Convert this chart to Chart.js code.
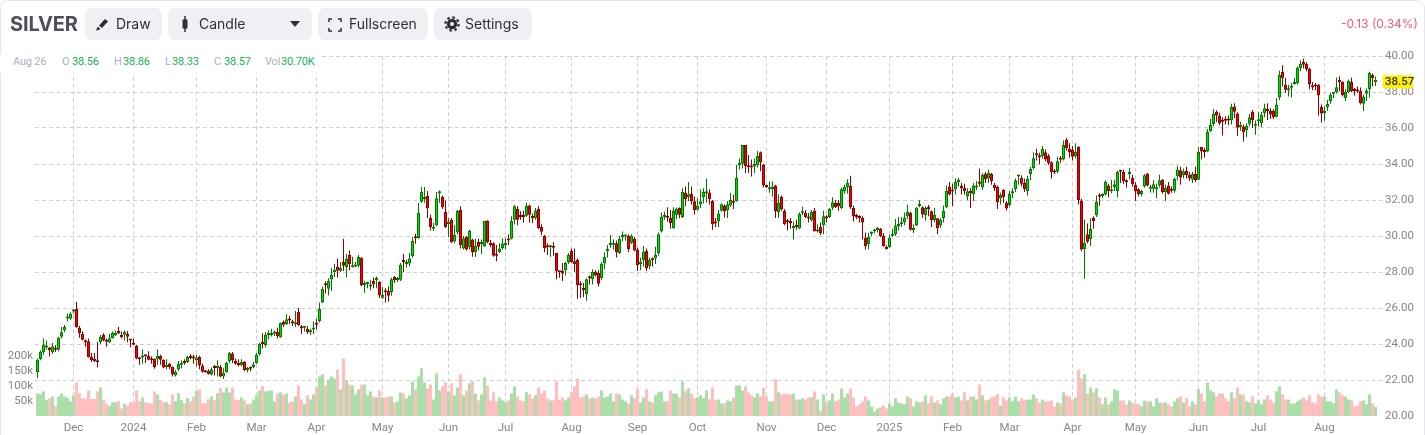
<!DOCTYPE html>
<html>
<head>
<meta charset="UTF-8">
<title>SILVER</title>
<script src="https://cdn.jsdelivr.net/npm/chart.js@4"></script>
<style>
  html, body { margin: 0; padding: 0; background: #fff; }
  #card { position: absolute; left: 0; top: 0; width: 1423px; height: 445px; border: 1px solid #e6e7eb; border-radius: 8px; }
  #frame { position: absolute; left: 0; top: 0; width: 1425px; height: 435px; overflow: hidden; font-family: Inter, Roboto, sans-serif; }
  canvas { position: absolute; left: 0; top: 0; }
  .abs { position: absolute; white-space: nowrap; }
  .title { left: 10px; top: 10px; font-size: 20px; line-height: 28px; font-weight: 700; color: #4d505c; letter-spacing: -0.15px; }
  .btn { position: absolute; top: 8px; height: 32px; background: #eff0f4; border-radius: 7px; color: #2d2f38; font-size: 14px; line-height: 32px; white-space: nowrap; }
  .btn svg { position: absolute; top: 8px; }
  .btn span { position: absolute; top: 0; }
  .change { right: 7px; top: 16px; font-size: 12px; line-height: 16px; color: #ff5a5f; }
  #ohlc { position: absolute; left: 0; top: 54px; width: 319px; height: 19px; background: #fff; font: 11px/16px Roboto, sans-serif; }
  #ohlc span { position: absolute; top: 0; white-space: nowrap; letter-spacing: -0.2px; }
  .k { color: #adb0bf; }
  .v { color: #16b25a; }
</style>
</head>
<body>
<div id="frame">
<div id="card"></div>
<canvas id="chart" width="1425" height="435"></canvas>

<div class="abs title">SILVER</div>

<div class="btn" style="left:85px;width:77px">
  <svg width="16" height="16" viewBox="0 0 16 16" style="left:9px"><path d="M2 14l2-3.5 2.5 2.5L3 14.5zM5 9.5L11 3l3 2.5-6 6.5z" fill="#2d2f38"/></svg>
  <span style="left:31px">Draw</span>
</div>
<div class="btn" style="left:168px;width:144px">
  <svg width="16" height="16" viewBox="0 0 16 16" style="left:9px"><path d="M8 0v16" stroke="#2d2f38" stroke-width="1.5"/><rect x="5.5" y="3.5" width="5" height="9" fill="#2d2f38"/></svg>
  <span style="left:31px">Candle</span>
  <svg width="10" height="6" viewBox="0 0 10 6" style="left:122px;top:13px"><path d="M0 0h10L5 6z" fill="#2d2f38"/></svg>
</div>
<div class="btn" style="left:318px;width:110px">
  <svg width="14" height="14" viewBox="0 0 14 14" style="left:10px;top:10px"><path d="M1 4V1h3M10 1h3v3M13 10v3h-3M4 13H1v-3" fill="none" stroke="#2d2f38" stroke-width="1.5"/></svg>
  <span style="left:31px">Fullscreen</span>
</div>
<div class="btn" style="left:434px;width:98px">
  <svg width="16" height="16" viewBox="0 0 16 16" style="left:10px"><circle cx="8" cy="8" r="3.6" fill="none" stroke="#2d2f38" stroke-width="3.2"/><circle cx="8" cy="8" r="6.6" fill="none" stroke="#2d2f38" stroke-width="2.2" stroke-dasharray="2.6 2.6"/></svg>
  <span style="left:31px">Settings</span>
</div>

<div class="abs change">-0.13 (0.34%)</div>

<div id="ohlc">
  <span class="k" style="left:13px">Aug 26</span>
  <span class="k" style="left:62px">O</span><span class="v" style="left:72px">38.56</span>
  <span class="k" style="left:114px">H</span><span class="v" style="left:123px">38.86</span>
  <span class="k" style="left:165px">L</span><span class="v" style="left:172px">38.33</span>
  <span class="k" style="left:214px">C</span><span class="v" style="left:224px">38.57</span>
  <span class="k" style="left:265px">Vol</span><span class="v" style="left:281px">30.70K</span>
</div>
</div>

<script>
// values, one entry per trading day
const opens = [
  22.43,23.17,23.54,23.8,23.8,23.55,23.78,23.68,24.4,24.76,
  25.42,25.4,25.8,25.96,24.9,24.57,24.2,24.15,23.28,23.1,
  23.08,24.1,24.52,24.15,24.1,24.32,24.48,24.72,24.5,24.52,
  24.55,24.22,24.07,23.9,23.2,23.25,23.37,23.33,23.15,23.16,
  23.15,23.35,23.13,22.72,22.9,22.72,22.25,22.58,22.85,23.05,
  22.98,23.32,23.28,23.1,23.28,22.8,22.52,22.5,22.3,22.72,
  22.65,22.72,22.2,22.45,23.05,23.47,23.05,22.95,22.83,23.02,
  22.55,22.66,22.72,22.95,23.45,24.13,23.93,24.5,24.5,24.57,
  24.68,24.37,25.22,25.1,25.38,25.25,25.1,25.78,24.95,24.9,
  24.83,24.65,24.8,25.15,25.28,26.31,27.33,27.07,27.58,28.0,
  28.3,28.07,28.55,28.26,28.95,28.26,28.3,28.35,28.78,27.28,
  27.33,27.2,27.5,27.54,27.44,26.57,26.9,26.95,26.88,27.72,
  27.55,27.57,28.58,28.45,28.47,28.87,29.9,29.88,31.9,32.05,
  32.22,31.0,30.4,30.6,32.38,32.17,31.33,30.67,30.9,29.7,
  30.2,31.45,29.3,29.95,29.38,29.8,29.1,29.67,29.55,29.42,
  30.85,29.55,29.6,28.95,29.1,29.32,29.47,29.78,29.85,30.9,
  31.5,31.1,31.1,31.13,31.7,31.1,30.98,31.5,30.5,30.02,
  29.43,29.37,29.45,29.05,28.02,28.05,28.1,28.55,29.17,28.6,
  28.67,27.38,27.1,26.76,27.68,27.6,28.03,27.95,27.65,28.47,
  29.15,29.5,29.52,29.6,29.05,29.95,29.97,30.02,29.62,29.85,
  29.25,28.43,28.65,29.17,28.32,28.68,28.75,29.05,30.25,31.05,
  31.05,31.0,30.43,31.18,31.55,31.05,32.42,32.15,32.35,31.93,
  31.46,31.76,32.15,32.38,32.42,31.95,30.8,30.8,31.4,31.7,
  31.42,31.7,31.9,31.93,33.93,34.02,35.05,33.85,33.85,33.87,
  33.93,34.65,33.97,32.75,32.6,32.6,32.8,31.32,32.17,31.4,
  30.8,30.85,30.45,30.55,30.42,31.26,31.28,31.0,30.87,31.4,
  30.25,30.5,30.6,31.1,31.05,31.57,31.83,31.83,31.55,32.48,
  32.72,32.78,31.55,31.07,31.03,31.02,29.9,29.55,30.12,30.25,
  30.33,30.4,30.0,29.4,29.38,30.02,30.1,30.55,30.65,30.75,
  31.1,31.28,30.33,30.58,31.66,31.6,31.17,31.55,31.38,30.87,
  30.98,30.58,31.0,31.6,32.75,32.5,32.6,33.0,32.78,32.68,
  32.2,32.5,32.33,32.7,33.0,32.7,33.45,33.2,33.45,32.83,
  32.72,32.09,32.55,31.85,31.72,32.37,32.6,33.3,33.22,32.95,
  32.5,33.45,33.78,34.52,34.42,34.43,34.65,34.45,34.1,33.58,
  33.57,34.26,34.25,35.33,34.83,34.8,34.43,34.95,31.97,29.26,
  30.1,29.83,31.0,31.15,32.22,32.22,32.3,32.8,32.48,32.72,
  32.5,33.6,33.55,33.02,33.45,33.22,32.83,32.6,32.3,32.75,
  33.47,32.62,32.63,32.6,32.82,33.12,32.43,32.8,32.55,32.52,
  33.32,33.65,33.37,33.63,33.4,33.13,33.45,33.13,34.95,34.7,
  34.7,35.82,36.22,36.9,36.7,36.38,36.42,36.44,36.43,37.2,
  36.8,36.05,36.08,35.87,36.24,36.9,36.13,36.38,36.26,36.82,
  37.05,36.95,36.95,36.63,37.7,39.13,38.4,38.1,38.24,38.45,
  38.48,39.32,39.67,39.57,39.28,38.3,38.32,38.4,37.17,36.82,
  37.15,37.5,37.9,37.98,38.57,38.55,37.65,38.0,38.55,38.1,
  38.07,38.05,37.35,37.9,38.17,38.95,38.56
];
const highs = [
  23.2,23.65,24.3,24.2,23.85,24.05,23.95,24.4,24.95,25.05,
  25.7,25.75,25.95,26.35,25.0,24.7,24.25,24.3,23.5,23.5,
  24.13,24.5,24.6,24.3,24.55,24.7,24.75,24.95,24.7,24.75,
  24.72,24.25,24.3,23.95,23.25,23.7,23.4,23.6,23.3,23.2,
  23.7,23.4,23.15,23.15,22.95,22.75,22.55,23.05,23.1,23.15,
  23.35,23.45,23.4,23.4,23.35,22.9,22.55,22.6,22.7,22.85,
  23.1,22.85,22.65,23.0,23.55,23.55,23.2,23.15,23.15,23.05,
  22.72,22.75,23.0,23.5,24.05,24.6,24.65,24.77,24.85,24.75,
  24.9,25.2,25.3,25.65,25.55,25.35,25.83,26.0,25.05,24.95,
  24.98,24.85,25.25,25.4,26.3,27.2,27.48,27.65,28.22,28.46,
  28.75,28.55,29.85,29.0,29.2,28.85,28.55,28.95,28.82,27.52,
  27.46,27.55,27.7,27.75,27.5,27.15,27.1,27.2,27.7,27.78,
  27.72,28.5,29.02,28.7,29.05,29.95,30.13,31.83,32.72,32.72,
  32.5,31.2,30.72,32.45,32.53,32.25,31.98,31.0,31.0,30.6,
  31.45,31.65,30.0,30.0,30.35,29.85,29.85,29.85,29.8,30.85,
  30.88,29.78,29.65,29.5,29.6,29.88,29.9,30.08,31.1,31.72,
  31.67,31.37,31.4,31.85,31.75,31.25,31.55,31.65,30.65,30.05,
  29.6,29.52,29.65,29.05,28.05,28.5,28.55,29.05,29.3,29.3,
  28.75,27.48,27.4,27.65,27.8,28.15,28.1,28.1,28.55,29.1,
  29.5,30.05,29.8,29.75,30.0,30.25,30.1,30.1,30.1,29.95,
  29.35,28.8,29.45,29.3,28.8,28.82,29.4,30.2,31.3,31.35,
  31.6,31.45,31.6,31.58,31.6,32.65,32.75,33.0,32.75,32.2,
  32.1,32.6,32.65,33.2,32.6,32.0,31.0,31.45,31.8,31.75,
  31.95,32.4,32.3,33.95,34.3,35.05,35.05,34.5,34.25,34.3,
  34.72,34.7,34.0,32.85,33.03,33.03,32.85,32.3,32.25,31.5,
  30.95,31.0,30.8,30.9,31.3,31.62,31.45,31.28,31.45,31.55,
  30.65,30.75,31.4,31.15,31.55,32.15,31.98,32.0,32.7,32.85,
  33.15,33.35,31.7,31.22,31.15,31.1,30.2,30.18,30.25,30.4,
  30.5,30.45,30.15,29.48,30.05,30.4,30.95,31.05,31.05,31.3,
  31.75,31.35,30.65,31.6,32.0,31.65,31.65,31.72,31.42,31.55,
  31.0,31.0,31.7,32.8,33.0,32.9,33.2,33.22,32.95,32.9,
  32.65,32.65,32.95,33.05,33.75,33.5,33.55,33.7,33.5,32.95,
  32.8,32.4,32.6,31.95,32.5,32.65,33.2,33.4,33.38,33.2,
  33.35,33.85,34.65,34.85,34.62,35.0,34.8,34.55,34.15,33.72,
  34.4,34.45,35.3,35.45,35.15,35.0,35.15,34.98,32.05,30.9,
  30.7,30.98,31.1,32.25,32.38,32.38,33.1,32.9,33.12,33.12,
  33.62,33.68,33.68,33.15,33.78,33.4,33.0,32.65,32.55,33.45,
  33.5,32.85,33.1,32.9,33.4,33.18,32.85,33.0,32.75,33.25,
  33.9,33.85,33.75,33.85,33.55,33.55,33.85,34.95,34.95,34.9,
  35.95,36.5,37.05,36.98,36.85,36.6,36.65,36.7,37.35,37.38,
  36.88,36.35,36.2,36.25,36.78,37.0,36.42,36.9,36.9,37.35,
  37.38,37.1,37.05,37.65,39.2,39.48,38.78,38.4,38.5,38.78,
  39.42,39.75,39.85,39.65,39.35,38.55,38.5,38.45,37.3,37.2,
  37.55,37.95,38.0,38.8,38.88,38.6,38.15,38.7,38.8,38.22,
  38.3,38.25,37.85,38.2,39.12,39.03,38.86
];
const lows = [
  22.1,23.1,23.4,23.7,23.3,23.45,23.55,23.6,24.3,24.65,
  25.25,25.35,25.7,24.9,24.35,24.2,23.85,23.25,23.0,23.0,
  22.7,24.0,24.15,23.85,24.05,24.3,24.45,24.55,24.3,24.2,
  24.1,23.8,23.95,23.15,22.85,22.9,22.95,23.1,22.9,22.62,
  22.85,22.85,22.65,22.6,22.6,22.2,22.2,22.5,22.65,22.85,
  22.95,23.15,22.9,22.75,22.6,22.4,22.4,22.3,22.25,22.25,
  22.2,22.15,22.05,22.4,22.95,22.95,22.85,22.75,22.75,22.5,
  22.42,22.48,22.65,22.9,23.35,23.75,23.8,24.25,24.42,24.45,
  24.3,24.35,24.95,25.05,25.1,25.0,24.95,25.02,24.55,24.7,
  24.55,24.5,24.55,24.8,25.2,26.28,26.8,26.7,26.96,27.72,
  27.7,28.0,28.05,27.7,28.1,28.25,28.25,28.25,27.22,26.85,
  27.1,26.98,27.1,27.1,26.55,26.5,26.3,26.35,26.68,27.4,
  27.45,27.5,27.98,28.25,28.3,28.8,29.57,29.85,31.85,31.85,
  31.0,30.3,30.28,30.55,31.85,31.5,30.45,29.95,29.6,29.6,
  30.1,29.3,29.25,29.2,29.25,28.85,28.85,29.2,29.0,29.4,
  29.6,29.38,28.85,28.6,29.05,29.25,29.25,29.5,29.8,30.65,
  30.6,30.9,30.75,31.05,30.75,30.72,30.9,30.4,30.05,29.1,
  28.95,28.85,28.9,27.6,27.68,27.5,27.8,28.45,28.5,28.0,
  26.52,26.55,26.6,26.4,27.3,27.3,27.75,27.2,27.55,28.15,
  28.8,29.35,29.25,28.8,29.0,29.7,29.75,29.1,29.55,29.15,
  28.05,28.1,28.3,28.05,28.15,28.3,28.45,28.9,30.2,30.9,
  30.8,30.4,30.4,30.95,30.98,31.0,31.65,31.95,31.75,31.2,
  31.4,31.55,31.8,31.85,31.75,30.35,30.5,30.5,31.35,31.03,
  31.0,31.62,31.5,31.9,33.7,33.75,33.5,33.5,33.3,33.5,
  33.8,33.6,32.7,32.67,32.4,32.2,31.0,31.0,31.4,30.6,
  30.3,30.4,29.8,30.35,30.38,31.15,31.0,30.75,30.8,30.25,
  30.2,30.05,30.1,30.75,31.0,31.45,31.55,31.4,31.5,32.35,
  32.35,31.5,30.8,30.95,30.75,29.8,29.25,29.25,30.0,30.15,
  30.2,29.95,29.4,29.25,29.35,29.95,30.0,30.3,30.5,30.6,
  30.95,30.3,30.17,30.55,31.6,31.0,30.85,31.1,30.5,30.75,
  30.1,30.45,30.75,31.55,32.25,31.65,32.3,32.75,32.3,32.3,
  32.0,31.55,31.95,32.55,32.75,32.55,32.95,32.95,32.85,32.5,
  31.5,31.75,31.85,31.42,31.6,32.1,32.45,32.85,32.75,32.45,
  32.25,33.1,33.7,34.2,33.98,34.3,34.15,33.95,33.2,33.45,
  33.5,34.05,34.2,34.75,34.35,34.2,34.3,31.75,29.15,27.62,
  29.6,29.45,30.4,31.05,31.68,32.1,32.25,32.15,32.38,32.5,
  32.15,32.95,32.9,32.7,33.15,32.75,31.95,32.2,32.2,32.7,
  32.75,32.42,32.4,32.1,32.7,32.35,31.95,32.3,32.4,32.4,
  33.1,32.85,33.2,33.2,33.05,32.95,33.0,33.1,34.25,34.35,
  34.65,35.78,36.1,36.35,36.15,35.58,36.2,36.15,36.2,36.55,
  35.55,35.85,35.25,35.5,36.1,36.0,35.63,36.08,36.05,36.6,
  36.45,36.5,36.5,36.58,37.55,38.3,37.95,37.75,37.7,38.4,
  38.42,39.15,39.3,39.15,38.15,38.1,38.1,36.7,36.3,36.4,
  36.95,37.35,37.65,37.92,38.05,37.75,37.5,37.95,38.0,37.8,
  37.95,37.3,36.95,37.5,37.7,38.3,38.33
];
const closes = [
  23.13,23.57,23.96,23.82,23.65,23.87,23.68,24.33,24.65,24.94,
  25.45,25.68,25.85,24.93,24.6,24.24,24.1,23.28,23.1,23.05,
  22.98,24.4,24.2,24.12,24.32,24.62,24.63,24.58,24.38,24.68,
  24.4,24.2,23.96,23.2,23.15,23.35,23.32,23.13,23.1,22.72,
  23.35,23.13,22.7,22.85,22.72,22.3,22.46,22.9,22.95,22.95,
  23.28,23.22,23.2,23.25,22.8,22.46,22.43,22.33,22.6,22.66,
  22.78,22.2,22.4,22.95,23.5,23.1,22.9,22.82,23.02,22.55,
  22.58,22.63,22.87,23.4,24.0,24.0,24.52,24.55,24.57,24.7,
  24.43,25.17,25.07,25.38,25.3,25.15,25.14,25.05,24.87,24.92,
  24.65,24.76,24.9,25.07,25.95,27.06,27.27,27.52,27.83,28.02,
  28.07,28.22,28.35,28.72,28.43,28.37,28.39,28.83,27.26,27.39,
  27.35,27.31,27.31,27.67,26.7,26.72,26.87,26.68,27.6,27.54,
  27.6,28.4,28.55,28.47,28.75,29.72,29.87,31.28,32.45,32.08,
  31.54,30.5,30.5,32.1,32.4,31.6,30.5,30.8,29.65,30.05,
  31.4,29.5,29.87,29.25,30.28,29.1,29.45,29.4,29.57,30.83,
  29.65,29.5,28.9,28.9,29.3,29.58,29.62,29.75,30.83,31.65,
  30.9,31.05,31.05,31.67,31.18,31.0,31.42,30.43,30.24,29.33,
  29.38,29.4,29.35,28.05,27.98,27.92,28.5,28.95,28.55,28.45,
  27.26,27.26,27.0,27.6,27.65,28.0,27.82,27.35,28.45,28.85,
  29.28,29.52,29.55,29.1,29.85,29.98,30.0,29.28,30.02,29.2,
  28.38,28.55,29.13,28.2,28.7,28.65,28.95,30.1,31.05,31.08,
  31.02,30.72,31.42,31.5,31.18,32.45,32.05,32.32,31.93,31.45,
  31.7,31.93,32.45,32.4,32.05,30.65,30.7,31.25,31.76,31.38,
  31.76,32.0,31.85,33.22,34.05,35.05,33.87,33.82,33.8,34.0,
  34.45,34.1,32.8,32.72,32.63,32.75,31.37,31.83,31.47,30.65,
  30.77,30.7,30.55,30.5,31.22,31.3,31.05,30.97,31.33,30.27,
  30.27,30.17,31.1,30.97,31.5,31.88,31.6,31.65,32.6,32.72,
  32.95,31.6,31.1,31.05,31.0,30.75,29.43,29.95,30.15,30.28,
  30.36,29.98,29.45,29.28,29.9,30.05,30.55,30.65,30.68,31.0,
  31.33,30.35,30.36,31.58,31.7,31.2,31.55,31.5,30.87,31.17,
  30.43,30.9,31.4,32.5,32.3,32.47,33.0,33.03,32.65,32.5,
  32.48,32.38,32.8,32.73,32.9,33.4,33.15,33.5,33.05,32.65,
  31.87,32.28,32.15,31.53,32.33,32.4,33.1,33.33,32.9,32.6,
  33.17,33.72,34.32,34.48,34.38,34.83,34.25,34.05,33.55,33.53,
  34.15,34.23,35.05,34.87,34.65,34.4,34.68,31.98,29.25,29.62,
  29.68,30.39,30.82,31.9,32.18,32.25,33.0,32.5,32.5,32.88,
  33.55,33.57,33.05,32.98,33.55,32.88,32.48,32.33,32.5,33.38,
  32.8,32.65,32.88,32.63,33.1,32.45,32.67,32.35,32.52,33.17,
  33.7,33.25,33.6,33.37,33.2,33.45,33.1,34.67,34.69,34.67,
  35.78,36.17,36.78,36.7,36.28,36.35,36.4,36.42,37.17,36.9,
  36.02,36.18,35.77,36.13,36.6,36.45,36.16,36.42,36.74,37.1,
  36.95,36.75,36.6,37.3,38.95,38.76,38.13,38.13,38.27,38.47,
  39.35,39.57,39.52,39.28,38.42,38.27,38.3,37.8,36.8,36.95,
  37.33,37.85,37.93,38.27,38.55,37.82,38.0,38.62,38.05,38.05,
  38.03,37.37,37.75,38.07,39.05,38.76,38.57
];
// volume in thousands
const volumes = [
  75,73,82,53,59,65,33,65,75,65,
  61,49,68,112,76,59,57,85,57,57,
  82,95,55,41,33,46,46,49,25,41,
  35,46,46,85,49,62,46,42,42,82,
  72,53,46,46,39,72,50,76,53,42,
  60,49,65,85,89,42,42,55,65,53,
  76,92,79,95,78,95,55,53,62,52,
  39,42,55,69,85,99,82,85,85,49,
  75,79,72,75,45,49,65,102,55,39,
  69,55,72,95,132,139,102,122,132,125,
  155,89,192,119,105,102,72,89,105,105,
  69,82,65,62,85,62,62,65,65,45,
  49,79,75,59,69,115,89,132,159,112,
  92,105,55,142,85,99,112,82,109,69,
  95,139,69,85,109,115,75,52,72,129,
  102,52,79,49,62,52,45,52,75,99,
  65,52,49,79,72,59,69,95,75,85,
  59,52,52,115,55,62,52,62,79,99,
  125,62,65,72,59,62,59,65,85,62,
  65,75,49,75,72,55,49,42,69,59,
  89,45,62,89,49,45,69,79,82,49,
  49,85,75,75,62,115,85,92,75,59,
  62,69,59,85,55,95,52,55,42,42,
  52,49,62,102,102,85,99,79,69,62,
  75,65,95,65,49,49,122,79,72,75,
  72,72,75,55,55,59,55,62,62,82,
  55,19,72,45,52,75,49,55,92,62,
  75,92,62,32,39,49,65,52,32,15,
  25,29,35,25,42,32,59,45,42,39,
  65,59,32,49,45,49,69,42,65,45,
  52,39,59,65,65,75,62,65,52,79,
  52,65,65,55,105,69,52,55,62,65,
  72,35,62,52,62,49,65,49,59,52,
  55,55,72,59,45,55,49,49,52,32,
  45,42,79,69,65,52,62,155,125,139,
  75,95,79,92,62,39,62,39,49,89,
  85,52,52,39,52,45,42,39,32,52,
  49,49,32,59,45,45,45,39,32,49,
  59,65,45,59,32,49,39,89,75,49,
  112,85,79,65,75,75,59,49,79,59,
  95,72,72,49,45,65,42,52,39,55,
  69,55,45,82,99,72,55,55,42,42,
  49,55,62,52,69,45,42,72,65,65,
  49,49,42,89,79,69,65,55,52,32,
  35,49,52,39,72,42,31
];

// first trading day of each month, as an index into the arrays above
const monthIndex = [12, 32, 53, 73, 93, 115, 137, 156, 178, 200, 220, 243, 263, 284, 305, 324, 345, 366, 387, 407, 429];
const monthLabels = ['Dec', '2024', 'Feb', 'Mar', 'Apr', 'May', 'Jun', 'Jul', 'Aug', 'Sep', 'Oct', 'Nov', 'Dec', '2025', 'Feb', 'Mar', 'Apr', 'May', 'Jun', 'Jul', 'Aug'];
const priceTicks = [20, 22, 24, 26, 28, 30, 32, 34, 36, 38, 40];
const volumeTicks = [50, 100, 150, 200];

const GRID = '#d0d0d0';
const AXIS_TEXT = '#868686';
const AXIS_FONT = { family: 'Roboto, sans-serif', size: 11.5 };
const GRID_DASH = [4, 3];

const isUp = opens.map((o, i) => closes[i] >= o);
const pick = (up, down) => isUp.map(u => (u ? up : down));

// last price badge sits on top of the right hand axis
const lastPriceBadge = {
  id: 'lastPriceBadge',
  afterDraw(chart) {
    const { ctx, scales } = chart;
    const last = closes[closes.length - 1];
    const y = scales.y.getPixelForValue(last);
    ctx.save();
    ctx.fillStyle = '#fff000';
    ctx.fillRect(1383, y - 6.5, 30, 13);
    ctx.fillStyle = '#333';
    ctx.font = '500 11.5px Roboto, sans-serif';
    ctx.textBaseline = 'middle';
    ctx.fillText(last.toFixed(2), 1385, y + 0.5);
    ctx.restore();
  }
};

new Chart(document.getElementById('chart'), {
  type: 'bar',
  plugins: [lastPriceBadge],
  data: {
    labels: opens.map((_, i) => i),
    datasets: [
      {
        label: 'Body',
        data: opens.map((o, i) => [o, closes[i]]),
        yAxisID: 'y',
        order: 1,
        grouped: false,
        barThickness: 3,
        minBarLength: 2,
        inflateAmount: 0,
        borderWidth: 1,
        borderSkipped: false,
        backgroundColor: pick('#00e000', '#ff0000'),
        borderColor: pick('#007800', '#900000')
      },
      {
        label: 'Wick',
        data: lows.map((l, i) => [l, highs[i]]),
        yAxisID: 'y',
        order: 2,
        grouped: false,
        barThickness: 1,
        inflateAmount: 0,
        borderWidth: 0,
        backgroundColor: pick('#007800', '#900000')
      },
      {
        label: 'Volume',
        data: volumes,
        yAxisID: 'yVol',
        order: 3,
        grouped: false,
        barThickness: 3,
        inflateAmount: 0,
        borderWidth: 0,
        backgroundColor: pick('#abdfa9', '#ffbfbf')
      }
    ]
  },
  options: {
    responsive: false,
    animation: false,
    events: [],
    layout: { padding: { top: 56, left: 0, right: 0, bottom: 0 } },
    plugins: { legend: { display: false }, tooltip: { enabled: false } },
    scales: {
      x: {
        type: 'linear',
        offset: false,
        min: -2.5 / 3,
        max: 1345.5 / 3,
        afterBuildTicks: s => { s.ticks = monthIndex.map(value => ({ value })); },
        afterFit: s => { s.height = 19; },
        border: { display: false, dash: GRID_DASH },
        grid: { offset: false, color: GRID, lineWidth: 1, drawTicks: false },
        ticks: {
          autoSkip: false,
          maxRotation: 0,
          padding: 5,
          color: AXIS_TEXT,
          font: AXIS_FONT,
          callback: v => monthLabels[monthIndex.indexOf(v)]
        }
      },
      y: {
        position: 'right',
        min: 20,
        max: 40,
        afterBuildTicks: s => { s.ticks = priceTicks.map(value => ({ value })); },
        afterFit: s => { s.width = 42; },
        border: { display: false, dash: GRID_DASH },
        grid: { color: c => (c.tick && c.tick.value === 20 ? 'transparent' : GRID), lineWidth: 1, drawTicks: false },
        ticks: {
          autoSkip: false,
          padding: 2,
          color: AXIS_TEXT,
          font: AXIS_FONT,
          callback: v => v.toFixed(2)
        }
      },
      yVol: {
        position: 'left',
        min: 0,
        max: 1200,
        afterBuildTicks: s => { s.ticks = volumeTicks.map(value => ({ value })); },
        afterFit: s => { s.width = 35; },
        border: { display: false },
        grid: { display: false, drawTicks: false },
        ticks: {
          autoSkip: false,
          padding: 2,
          color: AXIS_TEXT,
          font: AXIS_FONT,
          callback: v => v + 'k'
        }
      }
    }
  }
});
</script>
</body>
</html>
